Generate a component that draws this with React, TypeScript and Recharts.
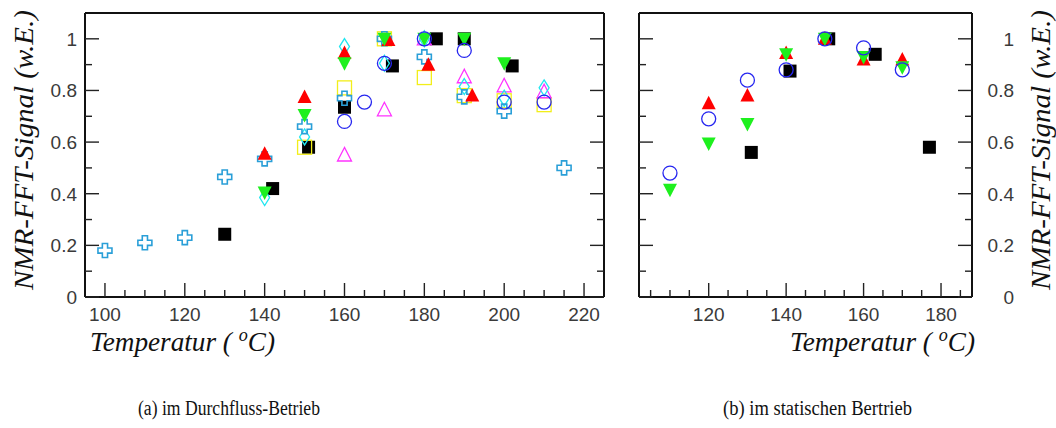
import { ScatterChart, Scatter, XAxis, YAxis } from "recharts";

type Pt = [number, number];

// (a) im Durchfluss-Betrieb
const aBlackSquare: Pt[] = [[130, 0.243], [142, 0.42], [151, 0.58], [160, 0.735], [172, 0.895], [183, 1.0], [190, 1.0], [202, 0.895]];
const aYellowSquare: Pt[] = [[150, 0.58], [160, 0.81], [170, 1.0], [180, 0.85], [190, 0.78], [200, 0.76], [210, 0.745]];
const aMagentaUp: Pt[] = [[160, 0.55], [170, 0.725], [180, 1.0], [190, 0.853], [200, 0.818], [210, 0.795]];
const aCyanDiamond: Pt[] = [[140, 0.385], [150, 0.62], [160, 0.97], [170, 0.905], [180, 1.0], [190, 0.815], [200, 0.77], [210, 0.81]];
const aCross: Pt[] = [[100, 0.18], [110, 0.21], [120, 0.23], [130, 0.465], [140, 0.535], [150, 0.66], [160, 0.77], [170, 1.0], [180, 0.93], [190, 0.775], [200, 0.72], [215, 0.5]];
const aRedUp: Pt[] = [[140, 0.555], [150, 0.775], [160, 0.945], [171, 0.995], [181, 0.9], [192, 0.78]];
const aGreenDown: Pt[] = [[140, 0.405], [150, 0.705], [160, 0.905], [170, 1.0], [180, 1.0], [190, 1.0], [200, 0.905]];
const aBlueCircle: Pt[] = [[160, 0.68], [165, 0.755], [170, 0.905], [180, 1.0], [190, 0.955], [200, 0.755], [210, 0.755]];

// (b) im statischen Betrieb
const bBlackSquare: Pt[] = [[131, 0.56], [141, 0.875], [151, 1.0], [163, 0.94], [177, 0.58]];
const bRedUp: Pt[] = [[120, 0.75], [130, 0.78], [140, 0.945], [150, 1.0], [160, 0.92], [170, 0.92]];
const bGreenDown: Pt[] = [[110, 0.415], [120, 0.595], [130, 0.67], [140, 0.94], [150, 1.0], [160, 0.93], [170, 0.89]];
const bBlueCircle: Pt[] = [[110, 0.48], [120, 0.69], [130, 0.84], [140, 0.88], [150, 1.0], [160, 0.965], [170, 0.88]];

const aXTicks = [100, 105, 110, 115, 120, 125, 130, 135, 140, 145, 150, 155, 160, 165, 170, 175, 180, 185, 190, 195, 200, 205, 210, 215, 220];
const bXTicks = [105, 110, 115, 120, 125, 130, 135, 140, 145, 150, 155, 160, 165, 170, 175, 180, 185];
const yTicks = [0, 0.1, 0.2, 0.3, 0.4, 0.5, 0.6, 0.7, 0.8, 0.9, 1.0];

const toXY = (pts: Pt[]) => pts.map(([x, y]) => ({ x, y }));

const TICK = "#222";
const LABEL_FONT = "'Liberation Sans', Arial, sans-serif";
const SERIF = "'Liberation Serif', 'Times New Roman', serif";

const isMajorX = (v: number) => v % 20 === 0;
const isMajorY = (v: number) => Math.round(v * 10) % 2 === 0;
const yLabel = (v: number) => (v === 0 ? "0" : v === 1 ? "1" : v.toFixed(1));

const BottomTick = ({ x, y, payload }: any) => {
  const major = isMajorX(payload.value);
  return (
    <g>
      <line x1={x} y1={y} x2={x} y2={y - (major ? 14 : 7)} stroke={TICK} strokeWidth={1.4} />
      {major && (
        <text x={x} y={y + 24} textAnchor="middle" fontFamily={LABEL_FONT} fontSize={19} fill="#3a3a3a">
          {payload.value}
        </text>
      )}
    </g>
  );
};

const TopTick = ({ x, y, payload }: any) => {
  const major = isMajorX(payload.value);
  return <line x1={x} y1={y} x2={x} y2={y + (major ? 14 : 7)} stroke={TICK} strokeWidth={1.4} />;
};

const LeftTick = (withLabel: boolean) => ({ x, y, payload }: any) => {
  const major = isMajorY(payload.value);
  return (
    <g>
      <line x1={x} y1={y} x2={x + (major ? 14 : 7)} y2={y} stroke={TICK} strokeWidth={1.4} />
      {withLabel && major && (
        <text x={x - 8} y={y + 7} textAnchor="end" fontFamily={LABEL_FONT} fontSize={19} fill="#3a3a3a">
          {yLabel(payload.value)}
        </text>
      )}
    </g>
  );
};

const RightTick = (withLabel: boolean) => ({ x, y, payload }: any) => {
  const major = isMajorY(payload.value);
  return (
    <g>
      <line x1={x} y1={y} x2={x - (major ? 14 : 7)} y2={y} stroke={TICK} strokeWidth={1.4} />
      {withLabel && major && (
        <text x={x + 42} y={y + 7} textAnchor="end" fontFamily={LABEL_FONT} fontSize={19} fill="#3a3a3a">
          {yLabel(payload.value)}
        </text>
      )}
    </g>
  );
};

type Kind = "black" | "yellow" | "magenta" | "cyan" | "cross" | "red" | "green" | "blue";

const Marker = ({ kind, cx, cy }: { kind: Kind; cx: number; cy: number }) => {
  switch (kind) {
    case "black":
      return <rect x={cx - 6.5} y={cy - 6.5} width={13} height={13} fill="#000" />;
    case "yellow":
      return <rect x={cx - 7} y={cy - 7} width={14} height={14} fill="none" stroke="#F2EE1A" strokeWidth={1.3} />;
    case "magenta":
      return (
        <polygon
          points={`${cx},${cy - 7.5} ${cx - 7},${cy + 6} ${cx + 7},${cy + 6}`}
          fill="none"
          stroke="#FF33FF"
          strokeWidth={1.3}
        />
      );
    case "cyan":
      return (
        <polygon
          points={`${cx},${cy - 8} ${cx + 5},${cy} ${cx},${cy + 8} ${cx - 5},${cy}`}
          fill="none"
          stroke="#22E6F0"
          strokeWidth={1.3}
        />
      );
    case "cross": {
      const a = 2.6;
      const b = 7;
      const d = `M${cx - a},${cy - b} H${cx + a} V${cy - a} H${cx + b} V${cy + a} H${cx + a} V${cy + b} H${cx - a} V${cy + a} H${cx - b} V${cy - a} H${cx - a} Z`;
      return <path d={d} fill="none" stroke="#2A9FD8" strokeWidth={1.6} />;
    }
    case "red":
      return <polygon points={`${cx},${cy - 7.5} ${cx - 7},${cy + 6} ${cx + 7},${cy + 6}`} fill="#FF0000" />;
    case "green":
      return <polygon points={`${cx},${cy + 7.5} ${cx - 7},${cy - 6} ${cx + 7},${cy - 6}`} fill="#1EF01E" />;
    case "blue":
      return <circle cx={cx} cy={cy} r={7} fill="none" stroke="#2626F0" strokeWidth={1.3} />;
  }
  return null;
};

const series = (kind: Kind, pts: Pt[]) => (
  <Scatter
    key={kind}
    data={toXY(pts)}
    xAxisId="b"
    yAxisId="l"
    isAnimationActive={false}
    shape={(p: any) => <Marker kind={kind} cx={p.cx} cy={p.cy} />}
  />
);

const axisLine = { stroke: "#111", strokeWidth: 2 };

function Panel({
  width,
  margin,
  xDomain,
  xTicks,
  leftWidth,
  rightWidth,
  leftLabels,
  rightLabels,
  children,
}: any) {
  return (
    <ScatterChart width={width} height={330} margin={margin}>
      <XAxis
        xAxisId="b"
        dataKey="x"
        type="number"
        domain={xDomain}
        allowDataOverflow
        ticks={xTicks}
        interval={0}
        tickSize={0}
        tickMargin={0}
        height={33}
        axisLine={axisLine}
        tickLine={false}
        tick={BottomTick}
      />
      <XAxis
        xAxisId="t"
        orientation="top"
        type="number"
        domain={xDomain}
        allowDataOverflow
        ticks={xTicks}
        interval={0}
        tickSize={0}
        tickMargin={0}
        height={1}
        axisLine={axisLine}
        tickLine={false}
        tick={TopTick}
      />
      <YAxis
        yAxisId="l"
        dataKey="y"
        type="number"
        domain={[0, 1.1]}
        allowDataOverflow
        ticks={yTicks}
        interval={0}
        tickSize={0}
        tickMargin={0}
        width={leftWidth}
        axisLine={axisLine}
        tickLine={false}
        tick={LeftTick(leftLabels)}
      />
      <YAxis
        yAxisId="r"
        orientation="right"
        type="number"
        domain={[0, 1.1]}
        allowDataOverflow
        ticks={yTicks}
        interval={0}
        tickSize={0}
        tickMargin={0}
        width={rightWidth}
        axisLine={axisLine}
        tickLine={false}
        tick={RightTick(rightLabels)}
      />
      {children}
    </ScatterChart>
  );
}

const serifItalic = {
  fontFamily: SERIF,
  fontStyle: "italic",
  fill: "#111",
} as const;

export default function App() {
  return (
    <div style={{ position: "absolute", left: 0, top: 0, width: 1056, height: 428, background: "#fff" }}>
      <div style={{ position: "absolute", left: 0, top: 0 }}>
        <Panel
          width={620}
          margin={{ top: 12, right: 15, bottom: 0, left: 25 }}
          xDomain={[95, 225]}
          xTicks={aXTicks}
          leftWidth={60}
          rightWidth={1}
          leftLabels={true}
          rightLabels={false}
        >
          {series("black", aBlackSquare)}
          {series("yellow", aYellowSquare)}
          {series("magenta", aMagentaUp)}
          {series("cyan", aCyanDiamond)}
          {series("cross", aCross)}
          {series("red", aRedUp)}
          {series("green", aGreenDown)}
          {series("blue", aBlueCircle)}
        </Panel>
      </div>
      <div style={{ position: "absolute", left: 600, top: 0 }}>
        <Panel
          width={456}
          margin={{ top: 12, right: 24, bottom: 0, left: 38 }}
          xDomain={[102, 188]}
          xTicks={bXTicks}
          leftWidth={1}
          rightWidth={60}
          leftLabels={false}
          rightLabels={true}
        >
          {series("black", bBlackSquare)}
          {series("red", bRedUp)}
          {series("green", bGreenDown)}
          {series("blue", bBlueCircle)}
        </Panel>
      </div>
      <svg
        width={1056}
        height={428}
        style={{ position: "absolute", left: 0, top: 0, pointerEvents: "none" }}
      >
        <text
          transform="translate(33,150) rotate(-90)"
          textAnchor="middle"
          fontSize={28}
          textLength={280}
          lengthAdjust="spacingAndGlyphs"
          {...serifItalic}
        >
          NMR-FFT-Signal (w.E.)
        </text>
        <text
          transform="translate(1050,150) rotate(-90)"
          textAnchor="middle"
          fontSize={27}
          textLength={280}
          lengthAdjust="spacingAndGlyphs"
          {...serifItalic}
        >
          NMR-FFT-Signal (w.E.)
        </text>
        <text x={90} y={351} fontSize={27} textLength={185} lengthAdjust="spacingAndGlyphs" {...serifItalic}>
          Temperatur ( <tspan dy={-10} fontSize={18}>o</tspan>
          <tspan dy={10}>C)</tspan>
        </text>
        <text x={790} y={351} fontSize={27} textLength={185} lengthAdjust="spacingAndGlyphs" {...serifItalic}>
          Temperatur ( <tspan dy={-10} fontSize={18}>o</tspan>
          <tspan dy={10}>C)</tspan>
        </text>
        <text
          x={138}
          y={415}
          fontFamily={SERIF}
          fontSize={20.5}
          textLength={182}
          lengthAdjust="spacingAndGlyphs"
          fill="#111"
        >
          (a) im Durchfluss-Betrieb
        </text>
        <text
          x={723}
          y={415}
          fontFamily={SERIF}
          fontSize={20.5}
          textLength={189}
          lengthAdjust="spacingAndGlyphs"
          fill="#111"
        >
          (b) im statischen Bertrieb
        </text>
      </svg>
    </div>
  );
}
